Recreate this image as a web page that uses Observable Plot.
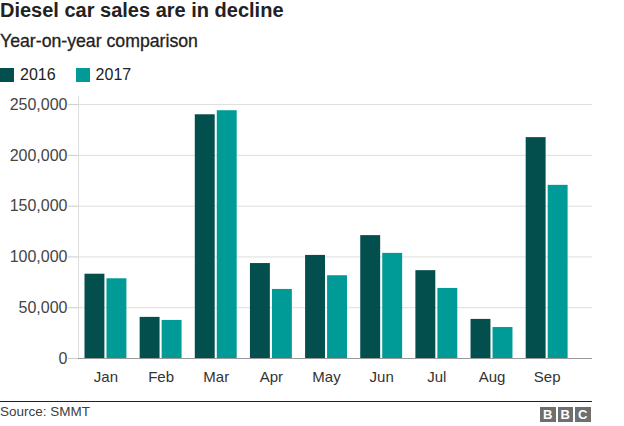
<!DOCTYPE html>
<html>
<head>
<meta charset="utf-8">
<script src="https://cdn.jsdelivr.net/npm/d3@7"></script>
<script src="https://cdn.jsdelivr.net/npm/@observablehq/plot@0.6"></script>
<style>
  html, body { margin: 0; padding: 0; background: #fff; }
  body { width: 624px; height: 426px; font-family: "Liberation Sans", Arial, Helvetica, sans-serif; color: #222; position: relative; overflow: hidden; }
  #title { position: absolute; left: 0; top: -1px; font-size: 20px; font-weight: bold; line-height: 22px; white-space: nowrap; }
  #subtitle { position: absolute; left: 0; top: 30px; font-size: 17.7px; line-height: 22px; white-space: nowrap; -webkit-text-stroke: 0.3px #222; }
  #legend { position: absolute; left: 0; top: 66px; font-size: 16px; line-height: 18px; display: flex; white-space: nowrap; }
  .item { display: flex; align-items: center; margin-right: 20px; }
  .sw { width: 14px; height: 14px; margin-right: 6px; display: inline-block; }
  #chart { position: absolute; left: 0; top: 88px; }
  #footer { position: absolute; left: 0; top: 401px; width: 592px; border-top: 1px solid #222; }
  #source { position: absolute; left: 0; top: 404px; font-size: 13.5px; color: #404040; line-height: 16px; }
  #bbc { position: absolute; left: 540px; top: 407px; display: flex; }
  #bbc span { width: 15.5px; height: 15px; background: #6f6f6f; color: #fff; font-weight: bold; font-size: 13px; line-height: 15px; text-align: center; margin-left: 2px; }
  #bbc span:first-child { margin-left: 0; }
</style>
</head>
<body>
<div id="title">Diesel car sales are in decline</div>
<div id="subtitle">Year-on-year comparison</div>
<div id="legend"></div>
<div id="chart"></div>
<div id="footer"></div>
<div id="source">Source: SMMT</div>
<div id="bbc"><span>B</span><span>B</span><span>C</span></div>
<script>
const months = ["Jan", "Feb", "Mar", "Apr", "May", "Jun", "Jul", "Aug", "Sep"];
const series = ["2016", "2017"];
const sales2016 = [83000, 40500, 240000, 93500, 101500, 121000, 86500, 38500, 217500];
const sales2017 = [78500, 37500, 244000, 68000, 81500, 103500, 69000, 30500, 170500];
const yTicks = [0, 50000, 100000, 150000, 200000, 250000];
const colors = ["#034f4e", "#009a97"];

const d2016 = months.map((m, i) => ({month: m, year: series[0], value: sales2016[i]}));
const d2017 = months.map((m, i) => ({month: m, year: series[1], value: sales2017[i]}));

const legend = document.getElementById("legend");
series.forEach((s, i) => {
  const it = document.createElement("div");
  it.className = "item";
  it.innerHTML = `<span class="sw" style="background:${colors[i]}"></span><span>${s}</span>`;
  legend.appendChild(it);
});

const chart = Plot.plot({
  width: 624,
  height: 312,
  marginLeft: 78,
  marginRight: 32,
  marginTop: 8,
  marginBottom: 42,
  style: {fontFamily: "'Liberation Sans', Arial, sans-serif", fontSize: "15px", background: "#fff"},
  x: {type: "band", domain: months, paddingInner: 0.24, paddingOuter: 0.28, align: 0.21, round: false},
  y: {domain: [0, 258000]},
  marks: [
    Plot.ruleY(yTicks.slice(1), {stroke: "#dddddd", strokeWidth: 1}),
    Plot.frame({anchor: "left", stroke: "#dddddd"}),
    Plot.barY(d2016, {x: "month", y: "value", fill: colors[0], insetRight: 22}),
    Plot.barY(d2017, {x: "month", y: "value", fill: colors[1], insetLeft: 22}),
    Plot.ruleY([0], {stroke: "#999999", strokeWidth: 1}),
    Plot.axisY({ticks: yTicks, tickFormat: d3.format(","), tickSize: 10, tickPadding: 1, stroke: "#cccccc", fill: "#444", fontSize: 16, label: null}),
    Plot.axisX({tickSize: 0, tickPadding: 13, fill: "#333", fontSize: 15, label: null})
  ]
});
document.getElementById("chart").appendChild(chart);
</script>
</body>
</html>
